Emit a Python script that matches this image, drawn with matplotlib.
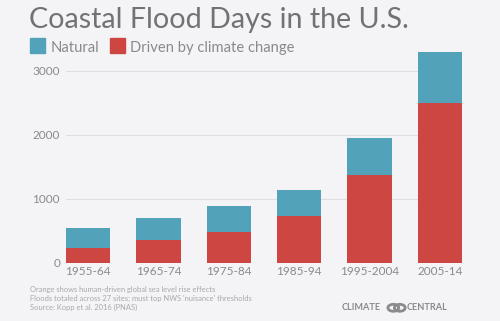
import numpy as np
import matplotlib.pyplot as plt
from matplotlib.patches import Circle, Rectangle

# flood days per decade, split into natural and climate-driven parts
decades = ['1955-64', '1965-74', '1975-84', '1985-94', '1995-2004', '2005-14']
driven = [240, 364, 489, 730, 1380, 2500]
natural = [302, 339, 402, 406, 573, 792]
yticks = [0, 1000, 2000, 3000]

blue = '#52a3b9'
red = '#cd4641'
bg = '#f4f4f6'
grey = '#8a8a8e'

plt.rcParams['font.family'] = ['Lato', 'DejaVu Sans']

fig = plt.figure(figsize=(5, 3.21), dpi=100, facecolor=bg)
ax = fig.add_axes([0.132, 0.1807, 0.792, 0.658], facecolor=bg)

x = np.arange(len(decades))
ax.bar(x, driven, width=0.63, color=red, zorder=3)
ax.bar(x, natural, width=0.63, bottom=driven, color=blue, zorder=3)

ax.set_xlim(-0.315, len(decades) - 1 + 0.315)
ax.set_ylim(0, 3300)
ax.set_yticks(yticks)
ax.set_yticklabels([str(v) for v in yticks])
ax.set_xticks(x)
ax.set_xticklabels(decades)
ax.grid(axis='y', color='#dedee2', linewidth=0.8, zorder=0)
ax.tick_params(length=0, pad=4.3, colors=grey, labelsize=8.5)
ax.tick_params(axis='x', pad=2.5)
for s in ax.spines.values():
    s.set_visible(False)

# title and legend
fig.text(0.058, 0.912, 'Coastal Flood Days in the U.S.', fontsize=20.6,
         fontweight='normal', color='#727276')
fig.add_artist(Rectangle((0.06, 0.835), 0.03, 0.046, transform=fig.transFigure,
                         color=blue))
fig.text(0.102, 0.838, 'Natural', fontsize=10.6, color=grey)
fig.add_artist(Rectangle((0.22, 0.835), 0.03, 0.046, transform=fig.transFigure,
                         color=red))
fig.text(0.26, 0.838, 'Driven by climate change', fontsize=10.6, color=grey)

# notes
notes = ['Orange shows human-driven global sea level rise effects',
         "Floods totaled across 27 sites; must top NWS 'nuisance' thresholds",
         'Source: Kopp et al. 2016 (PNAS)']
for i, line in enumerate(notes):
    fig.text(0.06, 0.0966 - i * 0.0271, line, fontsize=5.4, color='#a8a8ac',
             va='center')

# logo
fig.text(0.683, 0.042, 'CLIMATE', fontsize=6.6, fontweight='bold', color=grey,
         va='center')
fig.text(0.814, 0.042, 'CENTRAL', fontsize=6.6, fontweight='bold', color=grey,
         va='center')
w, h = fig.get_size_inches() * fig.dpi
for cx in (393.3, 399.8):
    fig.add_artist(Circle((cx / w, 13.2 / h), 5.4 / w, transform=fig.transFigure,
                          fill=False, edgecolor=grey, linewidth=2.0))

fig.savefig('out.png', dpi=100, facecolor=bg)
